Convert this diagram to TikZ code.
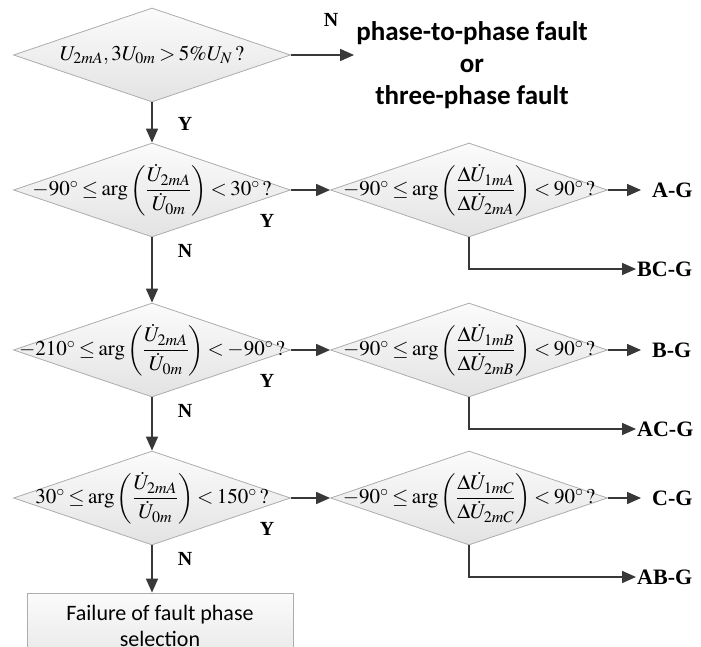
\documentclass[tikz,border=0pt]{standalone}
\usepackage{amsmath}
\usepackage{mathptmx}
\usepackage{fontspec}
\setmainfont{Liberation Serif}
\newfontfamily\calibri{Carlito}
\usetikzlibrary{shapes.geometric,arrows.meta}
\DeclareMathSizes{21}{21}{16}{13}
\newcommand\condfont{\fontsize{21}{25}\selectfont\thickmuskip=3mu plus 1mu\relax\medmuskip=2mu\relax}
\tikzset{
  dec/.style={diamond,draw=gray!65,line width=0.8pt,top color=gray!3,bottom color=gray!22,
    minimum width=277pt,minimum height=94pt,inner sep=0pt},
  cond/.style={font=\condfont,inner sep=0pt},
  arr/.style={draw=black!78,line width=1.6pt,-{Triangle[length=14pt,width=12pt]}},
  yn/.style={font=\fontsize{20}{22}\selectfont\bfseries},
  res/.style={font=\fontsize{22}{24}\selectfont\bfseries,anchor=west,inner sep=1pt},
  fbox/.style={draw=gray!65,line width=0.8pt,top color=gray!3,bottom color=gray!18,
    minimum width=266pt,minimum height=66pt,align=center,font=\calibri\fontsize{22}{26}\selectfont},
}
\begin{document}
\begin{tikzpicture}[x=1pt,y=-1pt]
  \clip (0,0) rectangle (701,647);
  % start test
  \node[dec] (d1) at (152,55) {};
  \node[cond] (c1) at (d1) {$U_{2mA},3U_{0m}>5\%U_N\,?$};
  \node[align=center,font=\calibri\bfseries\fontsize{27}{32}\selectfont,inner sep=2pt] (ph) at (472,65)
    {phase-to-phase fault\\or\\three-phase fault};
  \draw[arr] (d1.east) -- (d1.east -| ph.west);
  \node[yn] (n0) at (331,20) {N};
  \node[yn] (y0) at (185,124) {Y};
  % the three phases
  \foreach \r/\y/\lo/\hi/\ph/\one/\two in {1/190/-90/30/A/A-G/BC-G,
      2/350/-210/-90/B/B-G/AC-G, 3/498/30/150/C/C-G/AB-G} {
    \node[dec] (l\r) at (152,\y) {};
    \node[cond] (lc\r) at (l\r) {$\lo^\circ\le\arg\left(\dfrac{\dot U_{2mA}}{\dot U_{0m}}\right)<\hi^\circ\,?$};
    \node[dec] (r\r) at (469,\y) {};
    \node[cond] (rc\r) at (r\r) {$-90^\circ\le\arg\left(\dfrac{\Delta\dot U_{1m\ph}}{\Delta\dot U_{2m\ph}}\right)<90^\circ\,?$};
    \node[res] (o\r) at (651,\y) {\one};
    \node[res] (b\r) at (636,\y+79) {\two};
    \draw[arr] (l\r.east) -- (r\r.west);
    \draw[arr,shorten >=10pt] (r\r.east) -- (o\r.west);
    \draw[arr] (r\r.south) |- (b\r.west);
    \node[yn] (y\r) at (267,\y+31) {Y};
    \node[yn] (n\r) at (185,\y+61) {N};
  }
  \node[fbox] (fail) at (160,626) {Failure of fault phase\\selection};
  \draw[arr] (d1.south) -- (l1.north);
  \draw[arr] (l1.south) -- (l2.north);
  \draw[arr] (l2.south) -- (l3.north);
  \draw[arr] (l3.south) -- (l3.south |- fail.north);
\end{tikzpicture}
\end{document}
